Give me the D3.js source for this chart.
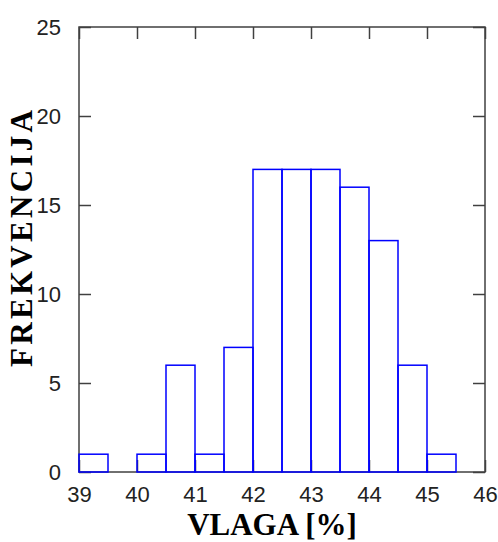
<!DOCTYPE html>
<html>
<head>
<meta charset="utf-8">
<script src="https://cdn.jsdelivr.net/npm/d3@7"></script>
<style>
  body { margin: 0; background: #fff; }
  svg { display: block; }
</style>
</head>
<body>
<div id="chart"></div>
<script>
// histogram bins (left edge, width 0.5) and counts
const binEdges = [39, 39.5, 40, 40.5, 41, 41.5, 42, 42.5, 43, 43.5, 44, 44.5, 45, 45.5];
const counts   = [1, 0, 1, 6, 1, 7, 17, 17, 17, 16, 13, 6, 1, 0];
const binWidth = 0.5;
const xTicks = [39, 40, 41, 42, 43, 44, 45, 46];
const yTicks = [0, 5, 10, 15, 20, 25];

const bins = binEdges.map((x0, i) => ({ x0: x0, x1: x0 + binWidth, n: counts[i] }));

const W = 498, H = 542;
const margin = { top: 27, right: 13, bottom: 70, left: 79 };
const width = W - margin.left - margin.right;
const height = H - margin.top - margin.bottom;

const svg = d3.select("#chart").append("svg")
  .attr("width", W)
  .attr("height", H);

const g = svg.append("g")
  .attr("transform", `translate(${margin.left},${margin.top})`);

const x = d3.scaleLinear().domain([39, 46]).range([0, width]);
const y = d3.scaleLinear().domain([0, 25]).range([height, 0]);

const axisColor = "#404040";
const tickLen = 12;

// box
g.append("rect")
  .attr("x", 0).attr("y", 0)
  .attr("width", width).attr("height", height)
  .attr("fill", "none")
  .attr("stroke", axisColor)
  .attr("stroke-width", 1.5);

// axes with inward ticks (mirrored on top/right)
function styleAxis(sel) {
  sel.select(".domain").remove();
  sel.selectAll(".tick line").attr("stroke", axisColor).attr("stroke-width", 1.5);
  sel.selectAll(".tick text")
    .attr("fill", "#222")
    .style("font-family", "'Liberation Sans', Arial, sans-serif")
    .style("font-size", "22px");
}

g.append("g")
  .attr("transform", `translate(0,${height})`)
  .call(d3.axisBottom(x).tickValues(xTicks).tickFormat(d3.format("d"))
    .tickSizeInner(-tickLen).tickSizeOuter(0).tickPadding(tickLen + 2))
  .call(styleAxis);

g.append("g")
  .call(d3.axisTop(x).tickValues(xTicks).tickFormat("")
    .tickSizeInner(-tickLen).tickSizeOuter(0))
  .call(styleAxis);

g.append("g")
  .call(d3.axisLeft(y).tickValues(yTicks).tickFormat(d3.format("d"))
    .tickSizeInner(-tickLen).tickSizeOuter(0).tickPadding(tickLen + 6))
  .call(styleAxis);

g.append("g")
  .attr("transform", `translate(${width},0)`)
  .call(d3.axisRight(y).tickValues(yTicks).tickFormat("")
    .tickSizeInner(-tickLen).tickSizeOuter(0))
  .call(styleAxis);

// bars
g.selectAll(".bar")
  .data(bins)
  .enter()
  .append("rect")
  .attr("class", "bar")
  .attr("x", d => x(d.x0))
  .attr("y", d => y(d.n))
  .attr("width", d => x(d.x1) - x(d.x0))
  .attr("height", d => y(0) - y(d.n))
  .attr("fill", "none")
  .attr("stroke", "#0000ff")
  .attr("stroke-width", 1.5);

// axis labels
g.append("text")
  .attr("x", width / 2 - 10)
  .attr("y", height + 62.5)
  .attr("text-anchor", "middle")
  .style("font-family", "'Liberation Serif', 'Times New Roman', serif")
  .style("font-weight", "bold")
  .style("font-size", "31px")
  .attr("fill", "#000")
  .text("VLAGA [%]");

g.append("text")
  .attr("transform", "rotate(-90)")
  .attr("x", -(367 - margin.top))
  .attr("y", 32 - margin.left)
  .attr("text-anchor", "start")
  .attr("textLength", 257)
  .attr("lengthAdjust", "spacing")
  .style("font-family", "'Liberation Serif', 'Times New Roman', serif")
  .style("font-weight", "bold")
  .style("font-size", "31px")
  .attr("fill", "#000")
  .text("FREKVENCIJA");
</script>
</body>
</html>
